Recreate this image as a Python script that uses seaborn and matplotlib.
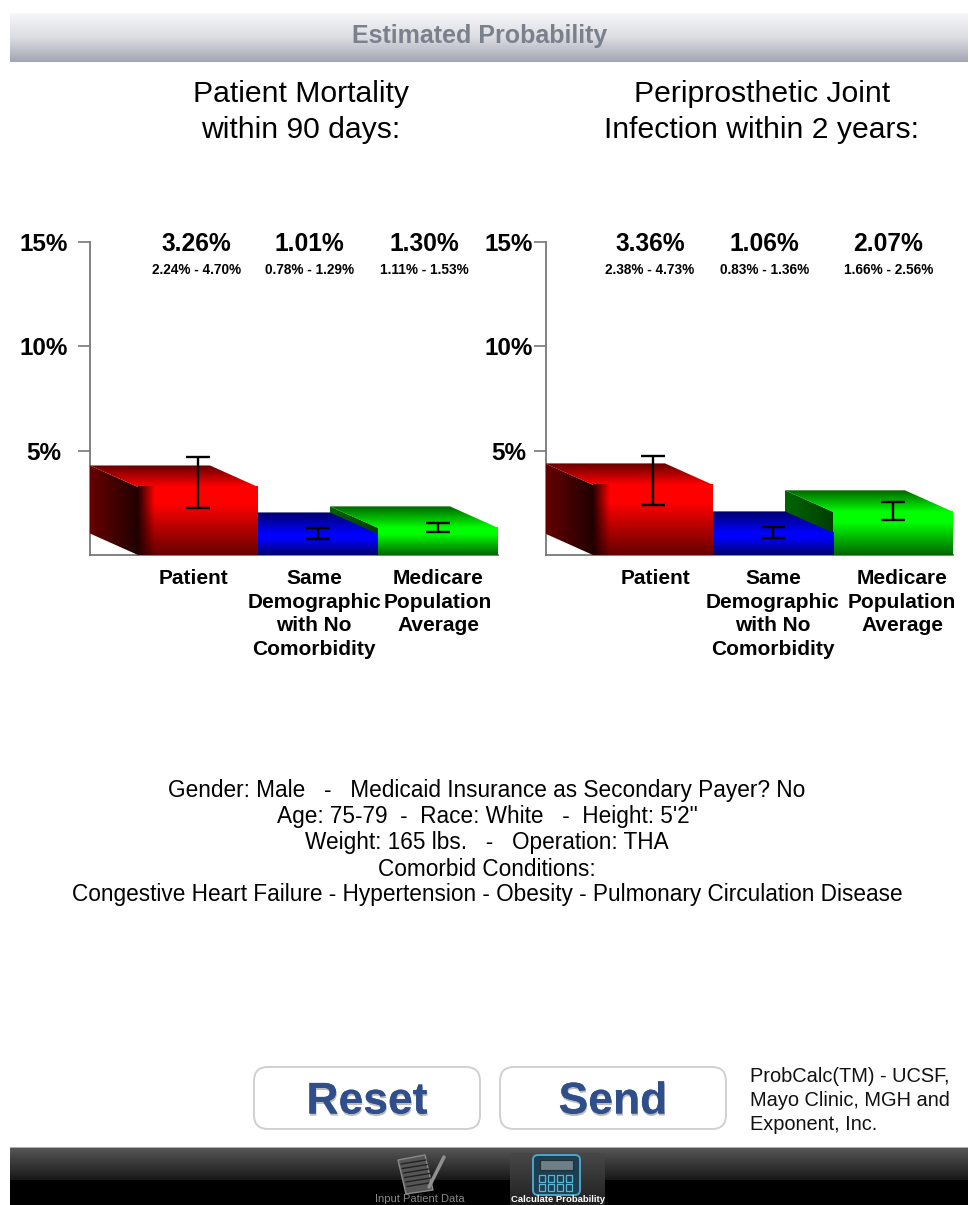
#! /usr/bin/env python3

import numpy as np
import pandas as pd
import seaborn as sns
import matplotlib.pyplot as plt
import matplotlib.patheffects as pe
from matplotlib.colors import LinearSegmentedColormap
from matplotlib.patches import FancyBboxPatch, Polygon, Rectangle

groups = ['Patient', 'Same Demographic', 'Medicare Average']
group_labels = ['Patient', 'Same\nDemographic\nwith No\nComorbidity', 'Medicare\nPopulation\nAverage']
titles = ['Patient Mortality\nwithin 90 days:', 'Periprosthetic Joint\nInfection within 2 years:']

mortality = [3.26, 1.01, 1.30]
mortality_low = [2.24, 0.78, 1.11]
mortality_high = [4.70, 1.29, 1.53]

infection = [3.36, 1.06, 2.07]
infection_low = [2.38, 0.83, 1.66]
infection_high = [4.73, 1.36, 2.56]

y_ticks = [5, 10, 15]
y_tick_labels = ['5%', '10%', '15%']

info_lines = [
    'Gender: Male   -   Medicaid Insurance as Secondary Payer? No',
    'Age: 75-79  -  Race: White   -  Height: 5\'2"',
    'Weight: 165 lbs.   -   Operation: THA',
    'Comorbid Conditions:',
    'Congestive Heart Failure - Hypertension - Obesity - Pulmonary Circulation Disease',
]
credit_lines = ['ProbCalc(TM) - UCSF,', 'Mayo Clinic, MGH and', 'Exponent, Inc.']

# bright, dark colours per bar
shades = {
    'Patient': ((1, 0, 0), (0.40, 0, 0), (0.13, 0, 0)),
    'Same Demographic': ((0, 0, 1), (0, 0, 0.42), (0, 0, 0.2)),
    'Medicare Average': ((0, 1, 0), (0, 0.40, 0), (0, 0.24, 0)),
}

# depth of the fake 3D boxes, in data units
depth_x = -0.40
depth_y = 1.03

sns.set_theme(style='white')
plt.rcParams['font.family'] = ['Liberation Sans', 'DejaVu Sans']

fig = plt.figure(figsize=(9.7, 12.05), dpi=100, facecolor='white')

# full page axes in pixels, for the app chrome
page = fig.add_axes([0, 0, 1, 1], zorder=0)
page.set_xlim(0, 970)
page.set_ylim(1205, 0)
page.axis('off')


def ramp(ax, extent, colors, horizontal=False, clip=None, z=3):
    cm = LinearSegmentedColormap.from_list('r', colors)
    g = np.linspace(0, 1, 128)
    g = g[None, :] if horizontal else g[:, None]
    im = ax.imshow(g, cmap=cm, extent=extent, aspect='auto', origin='upper',
                   vmin=0, vmax=1, zorder=z, interpolation='bilinear')
    if clip is not None:
        im.set_clip_path(Polygon(clip, transform=ax.transData))
    return im


def panel(left_px, right_px, center_px, values, low, high, tick_pad, label_ticks, value_x):
    unit = 120.0
    ax = fig.add_axes([left_px / 970, (1205 - 555) / 1205, (right_px - left_px) / 970, 313 / 1205],
                      zorder=1)
    ax.patch.set_alpha(0)
    df = pd.DataFrame({'group': groups, 'value': values})
    palette = {g: shades[g][0] for g in groups}
    sns.barplot(data=df, x='group', y='value', hue='group', palette=palette, saturation=1,
                width=1, legend=False, ax=ax)

    for i, bar in enumerate(ax.patches):
        g = groups[i]
        bright, dark, darkest = shades[g]
        x0, x1, h = bar.get_x(), bar.get_x() + bar.get_width(), bar.get_height()
        z = 3 + (2 - i) * 3
        bar.set_zorder(z)
        bar.set_linewidth(0)
        ramp(ax, (x0, x1, 0, h), [(0, bright), (0.25, bright), (1, dark)], z=z + 0.5)
        top = [(x0, h), (x1, h), (x1 + depth_x, h + depth_y), (x0 + depth_x, h + depth_y)]
        ramp(ax, (x0 + depth_x, x1, h, h + depth_y), [dark, bright], clip=top, z=z + 0.5)
        side = [(x0, 0), (x0, h), (x0 + depth_x, h + depth_y), (x0 + depth_x, depth_y)]
        ramp(ax, (x0 + depth_x, x0, 0, h + depth_y), [dark, darkest], horizontal=True, clip=side, z=z)
        if i == 0:
            # soft edge where the side meets the front
            ramp(ax, (x0, x0 + 0.14, 0, h), [darkest + (1,), darkest + (0,)], horizontal=True, z=z + 0.7)

    ax.errorbar(x=range(3), y=values,
                yerr=[np.array(values) - np.array(low), np.array(high) - np.array(values)],
                fmt='none', ecolor='black', elinewidth=1.7, capsize=8.6, capthick=1.7, zorder=30)

    ax.set_xlim((left_px - center_px) / unit, (right_px - center_px) / unit)
    ax.set_ylim(0, 15)
    ax.set_xlabel('')
    ax.set_ylabel('')

    sns.despine(ax=ax)
    for s in ['left', 'bottom']:
        ax.spines[s].set_color('#777777')
        ax.spines[s].set_linewidth(1.3)

    ax.set_xticks(label_ticks)
    ax.set_xticklabels(group_labels, fontsize=15, fontweight='bold', color='black', linespacing=1.31)
    ax.tick_params(axis='x', length=0, pad=10)
    ax.set_yticks(y_ticks)
    ax.set_yticklabels(y_tick_labels, fontsize=17.5, fontweight='bold', color='black')
    ax.tick_params(axis='y', left=True, length=9, width=1.2, color='#777777', pad=tick_pad)
    for t in ax.get_yticklabels():
        t.set_ha('center')

    for i in range(3):
        ax.text(value_x[i], 14.9, f'{values[i]:.2f}%', ha='center', va='center', fontsize=17.7,
                fontweight='bold', color='black')
        ax.text(value_x[i], 13.66, f'{low[i]:.2f}% - {high[i]:.2f}%', ha='center', va='center',
                fontsize=9.8, fontweight='bold', color='black')
    return ax


panel(90, 498, 198, mortality, mortality_low, mortality_high, 24, [-0.04, 0.967, 2.0],
      [-0.01, 0.93, 1.89])
panel(546, 953, 653, infection, infection_low, infection_high, 18, [0.017, 1.0, 2.075],
      [-0.025, 0.93, 1.96])

# header bar
ramp(page, (10, 968, 62, 13), ['#f7f7f9', '#dcdde2', '#a2a6b3'], z=1)
page.text(480, 36, 'Estimated Probability', ha='center', va='center', fontsize=18,
          fontweight='bold', color='#7b808d', zorder=3)

for x, t in zip([301, 762], titles):
    page.text(x, 112, t, ha='center', va='center', fontsize=21.7, color='black',
              linespacing=1.34, zorder=3)

for i, line in enumerate(info_lines):
    page.text(487, 791 + i * 26, line, ha='center', va='center', fontsize=16.3, color='black', zorder=3)

# buttons
for x, t in zip([254, 500], ['Reset', 'Send']):
    page.add_patch(FancyBboxPatch((x + 12, 1067 + 12), 226 - 24, 62 - 24,
                                  boxstyle='round,pad=12,rounding_size=14', facecolor='white',
                                  edgecolor='#d0d0d0', linewidth=1.4, zorder=2))
    page.text(x + 113, 1102, t, ha='center', va='center', fontsize=32, fontweight='bold',
              color='#2f4f8c', zorder=3,
              path_effects=[pe.withSimplePatchShadow(offset=(0.5, -1.5), shadow_rgbFace='#777777', alpha=0.5),
                            pe.Normal()])

for i, line in enumerate(credit_lines):
    page.text(750, 1077 + i * 24, line, ha='left', va='center', fontsize=14.4, color='#111111', zorder=3)

# tab bar
ramp(page, (10, 968, 1180, 1148), ['#565656', '#181818'], z=1)
page.add_patch(Rectangle((10, 1180), 958, 25, facecolor='black', linewidth=0, zorder=1))
page.add_patch(Rectangle((10, 1146.5), 958, 1.5, facecolor='#b0b0b0', linewidth=0, zorder=2))
ramp(page, (510, 605, 1205, 1153), ['#484848', '#202020'], z=2)

# notepad icon
page.add_patch(Polygon([(398, 1160), (425, 1155), (433, 1190), (406, 1194)], facecolor='#555555',
                       edgecolor='#8a8a8a', linewidth=1, zorder=3))
for k in range(6):
    page.plot([401 + k * 1.2, 426 + k * 1.2], [1164 + k * 4.5, 1160 + k * 4.5], color='#222222',
              lw=1, zorder=4)
page.plot([429, 444], [1187, 1157], color='#909090', lw=2.5, zorder=5)

# calculator icon
page.add_patch(FancyBboxPatch((536, 1158), 41, 34, boxstyle='round,pad=3,rounding_size=5',
                              facecolor='#1c3f52', edgecolor='#4fa5c8', linewidth=1.4, zorder=3))
page.add_patch(Rectangle((540, 1160), 33, 10, facecolor='#6f7f88', edgecolor='#203038', lw=0.8, zorder=4))
for row in range(2):
    for col in range(4):
        page.add_patch(Rectangle((539 + col * 9, 1175 + row * 9), 6.5, 6.5, facecolor='#1c3f52',
                                 edgecolor='#5cb6d6', lw=0.9, zorder=4))

page.text(420, 1199, 'Input Patient Data', ha='center', va='center', fontsize=8, color='#8a8a8a', zorder=5)
page.text(558, 1199, 'Calculate Probability', ha='center', va='center', fontsize=6.8, fontweight='bold',
          color='white', zorder=5)

page.set_xlim(0, 970)
page.set_ylim(1205, 0)

fig.savefig('out.png', dpi=100)
